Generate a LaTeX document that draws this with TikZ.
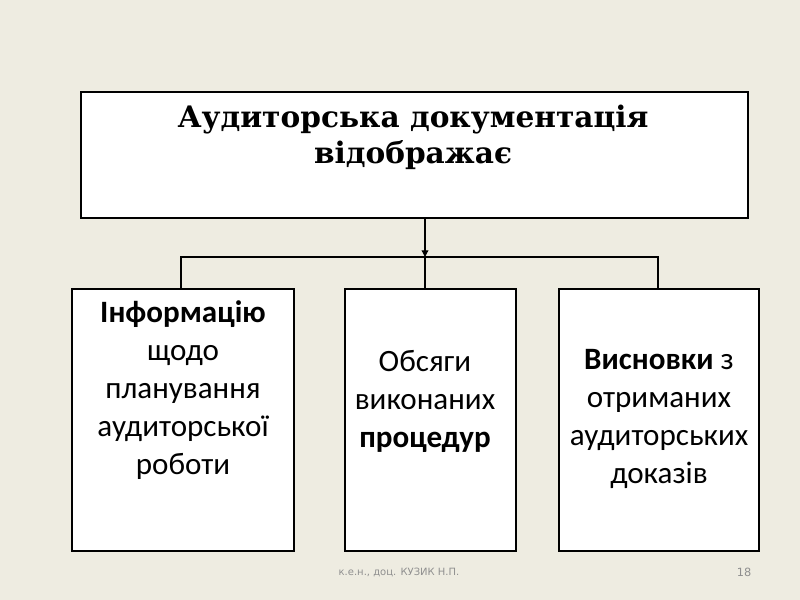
\documentclass[tikz,border=0pt]{standalone}
\usepackage{fontspec}
\setmainfont{Carlito}
\newfontfamily\titlefont{DejaVu Serif}
\newfontfamily\footfont{DejaVu Sans}
\usetikzlibrary{arrows.meta}
\definecolor{slidebg}{HTML}{EEECE1}
\definecolor{footgray}{HTML}{8F8F8F}
\begin{document}
\begin{tikzpicture}[x=0.75pt,y=-0.75pt,
  boxstyle/.style={draw=black,fill=white,line width=0.9pt,rectangle,inner sep=0pt},
  bodytext/.style={align=center,font=\fontsize{23.3pt}{28.5pt}\selectfont,inner sep=0pt},
  conn/.style={draw=black,line width=0.9pt},
  foot/.style={font=\footfont\fontsize{7.5pt}{9pt}\selectfont,text=footgray,inner sep=0pt}]
\fill[slidebg] (0,0) rectangle (800,600);
\useasboundingbox (0,0) rectangle (800,600);
% boxes
\node[boxstyle,minimum width=667*0.75pt,minimum height=126*0.75pt] (top) at (414.5,155) {};
\node[boxstyle,minimum width=222*0.75pt,minimum height=262*0.75pt] (left) at (183,420) {};
\node[boxstyle,minimum width=171*0.75pt,minimum height=262*0.75pt] (mid) at (430.5,420) {};
\node[boxstyle,minimum width=200*0.75pt,minimum height=262*0.75pt] (right) at (659,420) {};
% texts
\node[align=center,inner sep=0pt,font=\titlefont\bfseries\fontsize{22.2pt}{27pt}\selectfont] (toptext) at (413,137)
  {Аудиторська документація\\відображає};
\node[bodytext] (lefttext) at (183,390) {\textbf{Інформацію}\\щодо\\планування\\аудиторської\\роботи};
\node[bodytext] (midtext) at (425,401.5) {Обсяги\\виконаних\\\textbf{процедур}};
\node[bodytext] (righttext) at (659,418.5) {\textbf{Висновки} з\\отриманих\\аудиторських\\доказів};
% connectors
\coordinate (bus) at (425,257);
\coordinate (busL) at (181,257);
\coordinate (busR) at (658,257);
\draw[conn,-{Triangle[length=5pt,width=5pt]}] (top.south -| bus) -- (bus);
\draw[conn] (busL |- left.north) -- (busL) -- (busR) -- (busR |- right.north);
\draw[conn] (bus) -- (bus |- mid.north);
% footer
\node[foot] (author) at (399,572) {к.е.н., доц. КУЗИК\ Н.П.};
\node[foot,font=\footfont\fontsize{8.5pt}{10pt}\selectfont] (pagenum) at (744,572) {18};
\end{tikzpicture}
\end{document}
